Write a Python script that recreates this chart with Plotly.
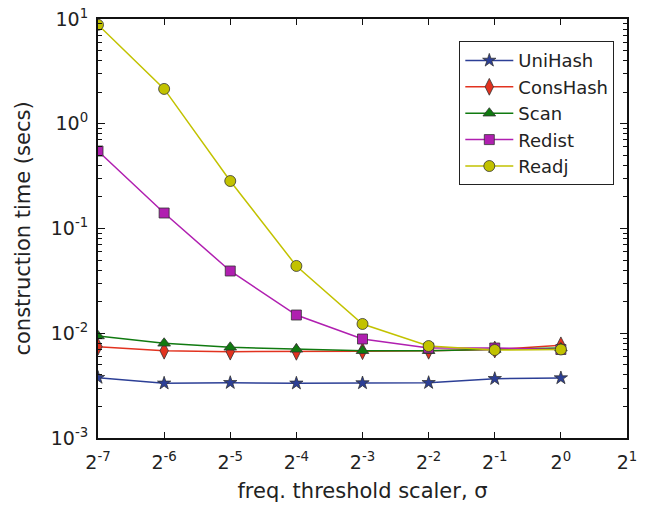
import plotly.graph_objects as go

# x positions: threshold scaler sigma as powers of two
sigma_exp = [-7, -6, -5, -4, -3, -2, -1, 0]
sigma = [2.0 ** e for e in sigma_exp]

# construction time in seconds per method
unihash = [0.00377, 0.00333, 0.00337, 0.00333, 0.00335, 0.00337, 0.00368, 0.00374]
conshash = [0.00745, 0.00681, 0.00667, 0.00665, 0.00674, 0.00680, 0.00700, 0.00767]
scan = [0.00942, 0.00802, 0.00734, 0.00703, 0.00681, 0.00681, 0.00700, 0.00723]
redist = [0.549, 0.1406, 0.0393, 0.01493, 0.00881, 0.00723, 0.00723, 0.00700]
readj = [8.8, 2.15, 0.284, 0.0439, 0.01226, 0.00755, 0.00692, 0.00700]

x_tick_exp = [-7, -6, -5, -4, -3, -2, -1, 0, 1]
y_tick_exp = [-3, -2, -1, 0, 1]

series = [
    ("UniHash", unihash, "#2c3f96", "star", 10),
    ("ConsHash", conshash, "#e2321f", "diamond-tall", 12),
    ("Scan", scan, "#107a10", "triangle-up", 11),
    ("Redist", redist, "#b01fb0", "square", 10),
    ("Readj", readj, "#c2c200", "circle", 11),
]

fig = go.Figure()
for name, vals, color, symbol, size in series:
    fig.add_trace(go.Scatter(
        x=sigma, y=vals, name=name, mode="lines+markers",
        line=dict(color=color, width=1.5),
        marker=dict(symbol=symbol, size=size, color=color,
                    line=dict(color="#333333", width=0.8)),
        cliponaxis=True,
    ))

font = "DejaVu Sans, Liberation Sans, sans-serif"
minor_vals = [m * 10.0 ** e for e in range(-3, 1) for m in range(2, 10)]

fig.update_layout(
    width=646, height=505,
    margin=dict(l=98, r=19, t=19, b=67),
    paper_bgcolor="white", plot_bgcolor="white",
    font=dict(family=font, size=18, color="#222222"),
    showlegend=True,
    legend=dict(
        x=0.683, y=0.947, xanchor="left", yanchor="top",
        bordercolor="#222222", borderwidth=1, bgcolor="white",
        font=dict(size=18), itemwidth=48, tracegroupgap=0,
    ),
    xaxis=dict(
        type="log", range=[-7 * 0.30103, 1 * 0.30103],
        tickmode="array",
        tickvals=[2.0 ** e for e in x_tick_exp],
        ticktext=[f"2<sup>{e}</sup>" for e in x_tick_exp],
        ticks="inside", ticklen=6, tickwidth=1, tickcolor="#111111",
        ticklabelstandoff=6,
        showline=True, linecolor="#111111", linewidth=2, mirror="ticks",
        showgrid=False, zeroline=False, automargin=False,
        title=dict(text="freq. threshold scaler, σ", font=dict(size=21), standoff=12),
        tickfont=dict(size=19),
    ),
    yaxis=dict(
        type="log", range=[-3, 1],
        tickmode="array",
        tickvals=[10.0 ** e for e in y_tick_exp],
        ticktext=[f"10<sup>{e}</sup>" for e in y_tick_exp],
        ticks="inside", ticklen=7, tickwidth=1, tickcolor="#111111",
        ticklabelstandoff=4,
        minor=dict(tickmode="array", tickvals=minor_vals, ticks="inside",
                   ticklen=4, tickcolor="#111111", showgrid=False),
        showline=True, linecolor="#111111", linewidth=2, mirror="ticks",
        showgrid=False, zeroline=False, automargin=False,
        title=dict(text="construction time (secs)", font=dict(size=21), standoff=14),
        tickfont=dict(size=19),
    ),
)

fig.write_html("out.html")
